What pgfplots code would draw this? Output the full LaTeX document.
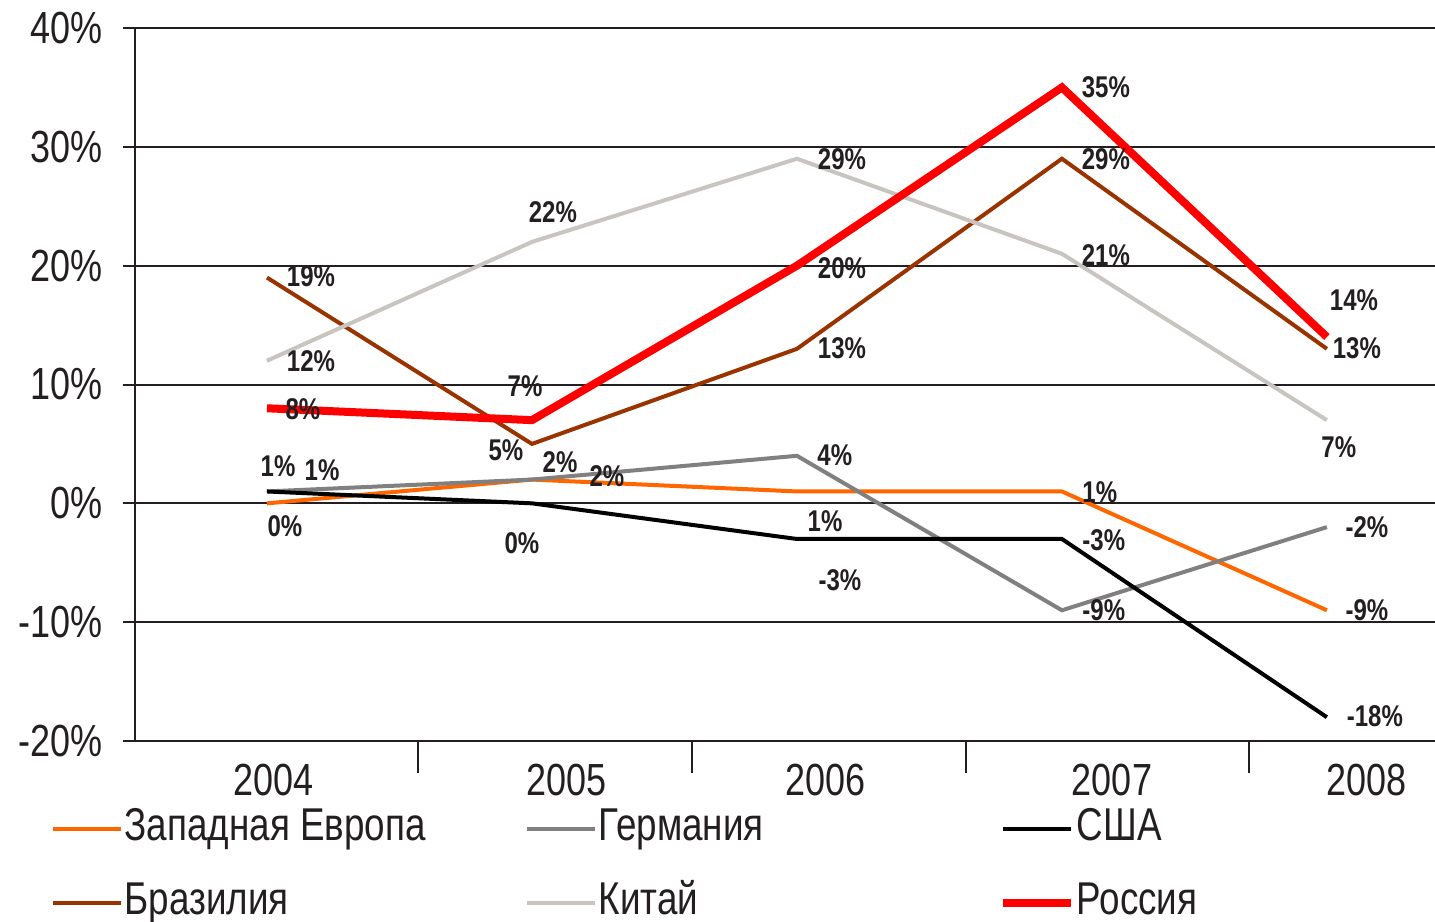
\documentclass[border=0pt]{standalone}
\usepackage{pgfplots}
\pgfplotsset{compat=1.18}
\usepackage{fontspec}
\setmainfont{Liberation Sans}[FakeStretch=0.8]
\definecolor{cOrange}{RGB}{255,102,0}
\definecolor{cGray}{RGB}{128,128,128}
\definecolor{cBrown}{RGB}{153,51,0}
\definecolor{cLight}{RGB}{200,196,191}
\definecolor{cRed}{RGB}{255,0,0}
\definecolor{cText}{RGB}{35,31,32}
\tikzset{lbl/.style={font=\bfseries\fontsize{7.5}{9}\selectfont, text=cText, inner sep=0pt}}
\pgfplotstableread{
x  weu  ger  usa  bra  chn  rus
0  0    1    1    19   12   8
1  2    2    0    5    22   7
2  1    4    -3   13   29   20
3  1    -9   -3   29   21   35
4  -9   -2   -18  13   7    14
}\data
\begin{document}
\begin{tikzpicture}
\useasboundingbox (-33.75pt,-45pt) rectangle (325pt,185.25pt);
\begin{axis}[
  at={(0pt,0pt)}, anchor=south west,
  scale only axis, width=325pt, height=178.25pt,
  xmin=-0.498, xmax=4.408, ymin=-20, ymax=40,
  axis x line*=bottom, axis y line*=left,
  axis line style={-, line width=0.5pt, cText},
  ymajorgrids, grid style={line width=0.5pt, cText},
  ytick={-20,-10,0,10,20,30,40},
  yticklabels={-20\%,-10\%,0\%,10\%,20\%,30\%,40\%},
  xtick={0.023,1.132,2.109,3.189,4.151},
  xticklabels={2004,2005,2006,2007,2008},
  xtick style={draw=none},
  extra x ticks={0.570,1.604,2.638,3.706},
  extra x tick labels={,,,},
  extra x tick style={major tick length=8pt, xtick style={draw=cText, line width=0.5pt}},
  tick align=outside, major tick length=3pt,
  ytick style={line width=0.5pt, cText},
  tick label style={font=\fontsize{11.25}{13}\selectfont, text=cText},
  yticklabel style={xshift=-1.5pt},
  xticklabel style={yshift=0.75pt},
  clip=false,
  legend columns=3,
  legend image code/.code={\draw[#1] (0pt,0pt) -- (17pt,0pt);},
  legend style={at={(axis description cs:-0.0654,-0.0912)}, anchor=north west,
    draw=none, fill=none, inner sep=0pt, column sep=0pt, row sep=7.5pt,
    font=\fontsize{11.5}{13}\selectfont, text=cText,
    nodes={inner xsep=0.5pt, inner ysep=0pt, text height=8.5pt, text depth=2.5pt}},
]
\addplot[cOrange, line width=1pt] table[x=x,y=weu]{\data};
\addplot[cGray, line width=1pt] table[x=x,y=ger]{\data};
\addplot[black, line width=1pt] table[x=x,y=usa]{\data};
\addplot[cBrown, line width=1pt] table[x=x,y=bra]{\data};
\addplot[cLight, line width=1pt] table[x=x,y=chn]{\data};
\addplot[cRed, line width=2pt] table[x=x,y=rus]{\data};
\legend{\makebox[99.5pt][l]{Западная Европа},\makebox[99.5pt][l]{Германия},\makebox[99.5pt][l]{США},\makebox[99.5pt][l]{Бразилия},\makebox[99.5pt][l]{Китай},\makebox[99.5pt][l]{Россия}}
% data labels
\node[lbl] at (axis cs:0.166,19.11) {19\%};
\node[lbl] at (axis cs:0.902,4.46) {5\%};
\node[lbl] at (axis cs:2.170,13.05) {13\%};
\node[lbl] at (axis cs:3.166,28.96) {29\%};
\node[lbl] at (axis cs:4.113,13.05) {13\%};
\node[lbl] at (axis cs:0.166,11.95) {12\%};
\node[lbl] at (axis cs:1.079,24.49) {22\%};
\node[lbl] at (axis cs:2.170,28.96) {29\%};
\node[lbl] at (axis cs:3.166,20.88) {21\%};
\node[lbl] at (axis cs:4.045,4.71) {7\%};
\node[lbl] at (axis cs:0.136,7.91) {8\%};
\node[lbl] at (axis cs:0.974,9.85) {7\%};
\node[lbl] at (axis cs:2.170,19.78) {20\%};
\node[lbl] at (axis cs:3.166,35.02) {35\%};
\node[lbl] at (axis cs:4.102,17.09) {14\%};
\node[lbl] at (axis cs:0.042,3.11) {1\%};
\node[lbl] at (axis cs:0.208,2.78) {1\%};
\node[lbl] at (axis cs:0.068,-1.94) {0\%};
\node[lbl] at (axis cs:1.106,3.45) {2\%};
\node[lbl] at (axis cs:1.283,2.27) {2\%};
\node[lbl] at (axis cs:0.962,-3.37) {0\%};
\node[lbl] at (axis cs:2.143,4.04) {4\%};
\node[lbl] at (axis cs:2.106,-1.52) {1\%};
\node[lbl] at (axis cs:2.162,-6.48) {-3\%};
\node[lbl] at (axis cs:3.143,0.93) {1\%};
\node[lbl] at (axis cs:3.158,-3.11) {-3\%};
\node[lbl] at (axis cs:3.158,-9.01) {-9\%};
\node[lbl] at (axis cs:4.151,-2.02) {-2\%};
\node[lbl] at (axis cs:4.151,-9.01) {-9\%};
\node[lbl] at (axis cs:4.181,-17.93) {-18\%};
\end{axis}
\end{tikzpicture}
\end{document}
